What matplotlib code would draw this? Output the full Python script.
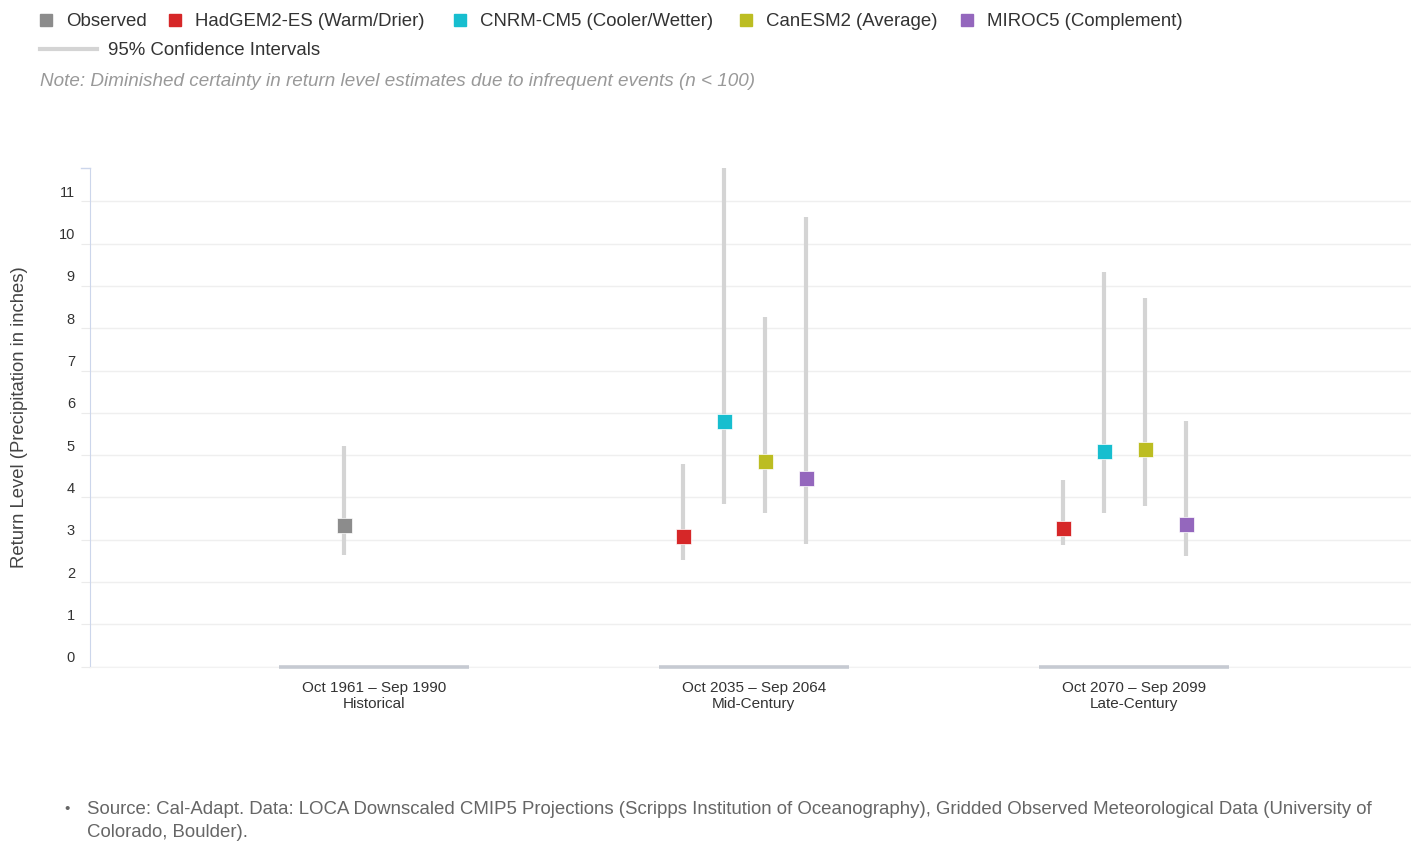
import numpy as np
import matplotlib.pyplot as plt
import matplotlib.transforms as mtransforms
from matplotlib.patches import Rectangle
from matplotlib.lines import Line2D

plt.rcParams['font.family'] = ['Liberation Sans', 'DejaVu Sans']

periods = ["Oct 1961 \u2013 Sep 1990\nHistorical",
           "Oct 2035 \u2013 Sep 2064\nMid-Century",
           "Oct 2070 \u2013 Sep 2099\nLate-Century"]

series_names = ["Observed", "HadGEM2-ES (Warm/Drier)", "CNRM-CM5 (Cooler/Wetter)",
                "CanESM2 (Average)", "MIROC5 (Complement)"]
colors = ["#8c8c8c", "#d62728", "#17becf", "#bcbd22", "#9467bd"]
offsets = [-0.079, -0.187, -0.079, 0.029, 0.137]

nan = np.nan
observed = [3.35, nan, nan]
observed_lo = [2.65, nan, nan]
observed_hi = [5.21, nan, nan]
hadgem = [nan, 3.10, 3.28]
hadgem_lo = [nan, 2.53, 2.88]
hadgem_hi = [nan, 4.79, 4.42]
cnrm = [nan, 5.81, 5.09]
cnrm_lo = [nan, 3.84, 3.63]
cnrm_hi = [nan, 11.81, 9.34]
canesm = [nan, 4.87, 5.15]
canesm_lo = [nan, 3.63, 3.80]
canesm_hi = [nan, 8.26, 8.71]
miroc = [nan, 4.46, 3.38]
miroc_lo = [nan, 2.90, 2.61]
miroc_hi = [nan, 10.62, 5.80]

values = [observed, hadgem, cnrm, canesm, miroc]
lows = [observed_lo, hadgem_lo, cnrm_lo, canesm_lo, miroc_lo]
highs = [observed_hi, hadgem_hi, cnrm_hi, canesm_hi, miroc_hi]

W, H = 1411, 842
fig = plt.figure(figsize=(W / 100, H / 100), dpi=100)
ax_w = W - 90
ax = fig.add_axes([90 / W, 1 - 666.7 / H, ax_w / W, (666.7 - 168.3) / H])

x = np.arange(len(periods))
for name, col, off, v, lo, hi in zip(series_names, colors, offsets, values, lows, highs):
    xs = x + off
    ax.vlines(xs, lo, hi, color="#d4d4d4", lw=3.0, zorder=2)
    ax.plot(xs, v, ls="none", marker="s", ms=10.8, mfc=col, mec="white",
            mew=0.5, zorder=3)

# grey category bars on the x axis
ax.hlines(np.zeros(len(periods)), x - 0.25, x + 0.25, color="#c6cad2", lw=2.6,
          zorder=4, clip_on=False)

ax.set_xlim(-0.747, 2.73)
ax.set_ylim(0, 11.78)
ax.set_yticks(range(0, 12))
ax.grid(axis="y", color="#efefef", lw=1)
ax.set_axisbelow(True)
for s in ["top", "right"]:
    ax.spines[s].set_visible(False)
ax.spines["left"].set_color("#ccd6eb")
ax.spines["bottom"].set_color("#f2f2f2")
ax.tick_params(axis="y", length=6.5, color="#ebebeb", labelsize=10.5,
               labelcolor="#333333", pad=4.3)
ax.tick_params(axis="x", length=0, labelsize=11, labelcolor="#333333", pad=10)
ax.set_xticks(x)
ax.set_xticklabels(periods, linespacing=1.2)

# y labels sit just above their grid lines
shift = mtransforms.ScaledTranslation(0, 10 / 100, fig.dpi_scale_trans)
for lab in ax.get_yticklabels():
    lab.set_transform(lab.get_transform() + shift)

# tick at top end of axis
ax.plot([-9 / ax_w, 0], [1, 1], transform=ax.transAxes,
        color="#ccd6eb", lw=1, clip_on=False)

fig.text(20 / W, 1 - 417 / H, "Return Level (Precipitation in inches)",
         rotation=90, ha="center", va="center", fontsize=13.3, color="#444444")

# legend
leg_x = [40, 169, 454, 740, 961]
for name, col, lx in zip(series_names, colors, leg_x):
    fig.patches.append(Rectangle((lx / W, 1 - 26 / H), 12 / W, 12 / H,
                                 color=col, transform=fig.transFigure))
    fig.text((lx + 26) / W, 1 - 21.5 / H, name, ha="left", va="center",
             fontsize=13.4, color="#333333")
fig.lines.append(Line2D([40 / W, 97 / W], [1 - 49 / H, 1 - 49 / H],
                        color="#d4d4d4", lw=3, transform=fig.transFigure))
fig.text(108 / W, 1 - 50.5 / H, "95% Confidence Intervals", ha="left", va="center",
         fontsize=13.4, color="#333333")
fig.text(40 / W, 1 - 82 / H,
         "Note: Diminished certainty in return level estimates due to infrequent events (n < 100)",
         ha="left", va="center", fontsize=13.6, style="italic", color="#999999")

fig.text(67 / W, 1 - 809 / H, "\u2022", ha="center", va="center", fontsize=11,
         color="#666666")
fig.text(87 / W, 1 - 809.5 / H,
         "Source: Cal-Adapt. Data: LOCA Downscaled CMIP5 Projections (Scripps Institution of "
         "Oceanography), Gridded Observed Meteorological Data (University of",
         ha="left", va="center", fontsize=13.4, color="#666666")
fig.text(87 / W, 1 - 832.5 / H, "Colorado, Boulder).", ha="left", va="center",
         fontsize=13.4, color="#666666")

fig.savefig("out.png", dpi=100)
